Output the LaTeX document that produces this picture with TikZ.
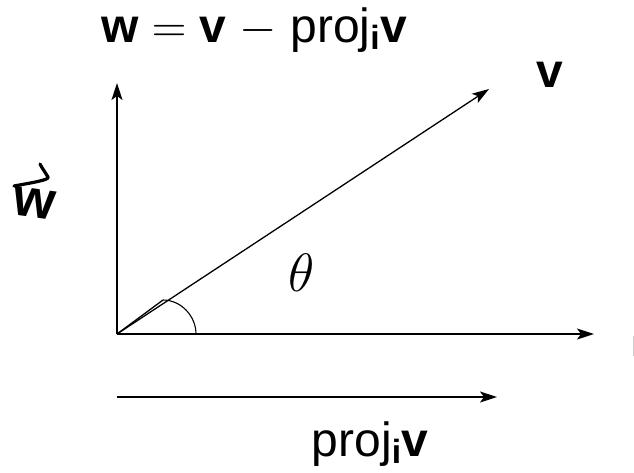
\RequirePackage{fix-cm}
\documentclass[tikz,border=0pt]{standalone}
\usepackage{amsmath}
\usepackage{fontspec}
\setmainfont{Liberation Sans}
\usetikzlibrary{arrows.meta}
\tikzset{
  vec/.style={line width=1.3pt, -{Stealth[length=17pt,width=11pt,inset=4pt]}},
  plain/.style={line width=1.3pt},
  lbl/.style={inner sep=0pt, font=\fontsize{48}{56}\selectfont},
  hand/.style={line width=3.2pt, line cap=round, line join=round},
}
\begin{document}
\begin{tikzpicture}[x=1pt,y=-1pt]
\useasboundingbox (0,0) rectangle (634,472);
\coordinate (O) at (117,334);
\coordinate (Ytip) at (117,83);
\coordinate (Xtip) at (594,334);
\coordinate (Vtip) at (489,89);
\coordinate (Ps) at (117,397);
\coordinate (Pe) at (497,397);
\coordinate (A1) at (163,300);
\coordinate (A2) at (196,334);
\draw[vec] (O) -- (Ytip);
\draw[vec] (O) -- (Xtip);
\draw[vec] (O) -- (Vtip);
\draw[vec] (Ps) -- (Pe);
\draw[plain] (O) -- (A1);
\draw[plain] (O) -- (A2);
\draw[line width=1.1pt] (A1) .. controls (181,300) and (196,316) .. (A2);
\node[lbl, anchor=base] (top) at (254,42) {\textbf{w} $=$ \textbf{v} $-$ proj$_{\text{\textbf{i}}}$\textbf{v}};
\node[lbl, anchor=base] (bot) at (370,456) {proj$_{\text{\textbf{i}}}$\textbf{v}};
\node[lbl, anchor=base] (vl) at (550,87) {\textbf{v}};
\node[inner sep=0pt, font=\fontsize{54}{62}\selectfont] (th) at (302,273) {$\theta$};
\node[inner sep=0pt, rotate=-8, font=\fontsize{54}{62}\selectfont\bfseries] (wv) at (34,203) {w};
\coordinate (h1) at (14,186);
\coordinate (h2) at (48,177);
\coordinate (h3) at (40,164);
\draw[hand] (h1) .. controls (30,183) and (50,180) .. (h2) .. controls (45,172) and (42,168) .. (h3);
\draw[gray!40, line width=0.8pt] (633,336) -- (633,356);
\end{tikzpicture}
\end{document}
